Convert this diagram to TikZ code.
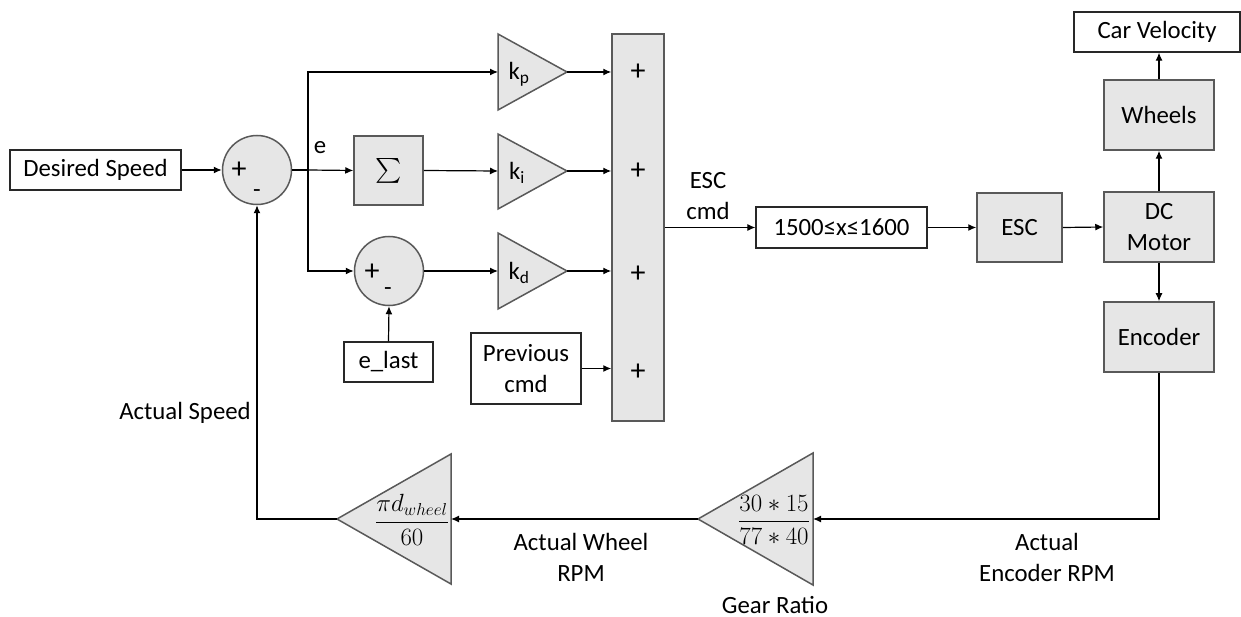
\documentclass[tikz,border=0pt]{standalone}
\usepackage{amsmath}
\usepackage{exscale}
\usepackage{fontspec}
\setmainfont{Carlito}
\usetikzlibrary{arrows.meta,calc}
\definecolor{boxfill}{RGB}{230,230,230}
\definecolor{edgegray}{RGB}{89,89,89}
\definecolor{edgedark}{RGB}{40,40,40}
\tikzset{
  x=1pt,y=-1pt,
  every node/.style={font=\fontsize{24.8}{31}\selectfont, inner sep=0pt, align=center},
  whitebox/.style={draw=edgedark, line width=1.3pt, fill=white, rectangle},
  graybox/.style={draw=edgegray, line width=1.5pt, fill=boxfill, rectangle},
  sumnode/.style={draw=edgegray, line width=1.5pt, fill=boxfill, circle, minimum size=69pt},
  tri/.style={draw=edgegray, line width=1.5pt, fill=boxfill, line join=miter},
  arr/.style={draw=black, line width=1.2pt, -{Latex[length=8pt,width=7pt]}},
  ln/.style={draw=black, line width=1.2pt},
  plussgn/.style={font=\fontsize{30}{34}\selectfont},
  minussgn/.style={font=\fontsize{24.8}{30}\selectfont},
  mathlbl/.style={font=\fontsize{24}{28}\selectfont},
}
\begin{document}
\begin{tikzpicture}
\useasboundingbox (0,0) rectangle (1241,617);

% boxes
\node[whitebox, minimum width=171pt, minimum height=40pt] (ds) at (95.5,170) {Desired Speed};
\node[sumnode] (c1) at (257,170) {};
\node[plussgn] (c1p) at (239,170) {+};
\node[minussgn] (c1m) at (257,194) {-};
\node[graybox, minimum width=69pt, minimum height=69pt] (sig) at (388.5,170.5) {\fontsize{27}{30}\selectfont$\textstyle\sum$};
\node[sumnode] (c2) at (389,271) {};
\node[plussgn] (c2p) at (372,272) {+};
\node[minussgn] (c2m) at (388,292) {-};
\node[whitebox, minimum width=89pt, minimum height=40pt] (el) at (388.5,362) {e\_last};
\node (elbl) at (320,148) {e};

% gains
\draw[tri] (498,34) -- (567,72) -- (498,110) -- cycle;
\draw[tri] (498,134) -- (567,171) -- (498,209) -- cycle;
\draw[tri] (498,233) -- (567,271) -- (498,309) -- cycle;
\coordinate (kpin) at (498,72);  \coordinate (kpout) at (567,72);
\coordinate (kiin) at (498,171); \coordinate (kiout) at (567,171);
\coordinate (kdin) at (498,271); \coordinate (kdout) at (567,271);
\node (kp) at (519,74) {k\textsubscript{p}};
\node (ki) at (517,173) {k\textsubscript{i}};
\node (kd) at (519,273) {k\textsubscript{d}};

\node[whitebox, minimum width=110pt, minimum height=71pt] (prev) at (526,368.5) {Previous\\cmd};

% summing bar
\node[graybox, minimum width=52pt, minimum height=387pt] (bar) at (638,227.5) {};
\node[plussgn] (bp1) at (638,72) {+};
\node[plussgn] (bp2) at (638,171) {+};
\node[plussgn] (bp3) at (638,274) {+};
\node[plussgn] (bp4) at (638,372) {+};
\node (esccmd) at (708,196) {ESC\\cmd};

% forward path
\node[whitebox, minimum width=171pt, minimum height=41pt] (lim) at (841.5,227.5) {1500≤x≤1600};
\node[graybox, minimum width=85pt, minimum height=69pt] (esc) at (1019.5,227.5) {ESC};
\node[graybox, minimum width=110pt, minimum height=70pt] (dc) at (1159,227) {DC\\Motor};
\node[graybox, minimum width=110pt, minimum height=70pt] (wh) at (1159,115) {Wheels};
\node[whitebox, minimum width=166pt, minimum height=40pt] (carv) at (1157,32) {Car Velocity};
\node[graybox, minimum width=110pt, minimum height=70pt] (enc) at (1159,337) {Encoder};

% feedback triangles
\draw[tri] (813,453) -- (698,519) -- (813,585) -- cycle;
\draw[tri] (451,454) -- (337,519) -- (451,584) -- cycle;
\coordinate (gearin) at (813,519); \coordinate (gearout) at (698,519);
\coordinate (whin) at (451,519);   \coordinate (whout) at (337,519);
\node[mathlbl] (gearfrac) at (774,520) {$\dfrac{30\ast15}{77\ast40}$};
\node[mathlbl] (whfrac) at (412,520) {$\dfrac{\pi d_{wheel}}{60}$};

% labels
\node (aspeed) at (185,413) {Actual Speed};
\node (awrpm) at (581,557.5) {Actual Wheel\\RPM};
\node[anchor=base] (gratio) at (775,613) {Gear Ratio};
\node (aerpm) at (1047,557) {Actual\\Encoder RPM};

% connectors
\coordinate (br) at (308,170);
\draw[arr] (ds.east) -- (c1.west);
\draw[ln] (c1.east) -- (br);
\draw[arr] (br) -- (sig.west);
\draw[arr] (br) |- (kpin);
\draw[arr] (br) |- (c2.west);
\draw[arr] (sig.east) -- (kiin);
\draw[arr] (c2.east) -- (kdin);
\draw[arr] (el.north) -- (c2.south);
\draw[arr] (kpout) -- (bar.west |- kpout);
\draw[arr] (kiout) -- (bar.west |- kiout);
\draw[arr] (kdout) -- (bar.west |- kdout);
\draw[arr] (prev.east) -- (bar.west |- prev.east);
\draw[arr] (bar.east) -- (lim.west);
\draw[arr] (lim.east) -- (esc.west);
\draw[arr] (esc.east) -- (dc.west);
\draw[arr] (dc.north) -- (wh.south);
\draw[arr] (wh.north) -- (wh.north |- carv.south);
\draw[arr] (dc.south) -- (enc.north);
\draw[arr] (enc.south) |- (gearin);
\draw[arr] (gearout) -- (whin);
\draw[arr] (whout) -| (c1.south);
\end{tikzpicture}
\end{document}
